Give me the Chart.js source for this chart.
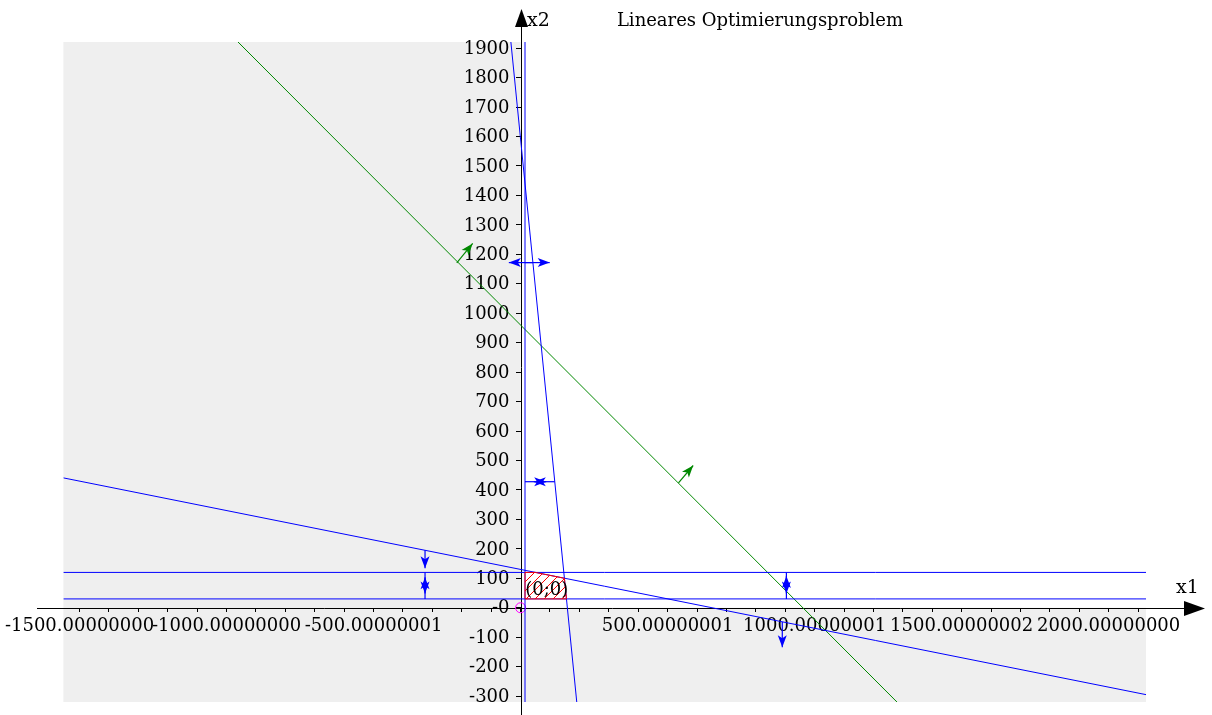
<!DOCTYPE html>
<html>
<head>
<meta charset="utf-8">
<title>Lineares Optimierungsproblem</title>
<script src="https://cdn.jsdelivr.net/npm/chart.js@4.4.1/dist/chart.umd.min.js"></script>
<style>
  html, body { margin: 0; padding: 0; background: #fff; }
  #wrap { position: relative; width: 1212px; height: 715px; }
</style>
</head>
<body>
<div id="wrap"><canvas id="lp"></canvas></div>
<script>
// visible window of the plot (data units)
const xRange = [-1555, 2127];
const yRange = [-320, 1921];
const tickStep = 100;

// tick labels as printed in the original
const xLabelValues = [-1500, -1000, -500, 500, 1000, 1500, 2000];
const xLabelTexts = ['-1500.00000000', '-1000.00000000', '-500.00000001', '500.00000001',
  '1000.00000001', '1500.00000002', '2000.00000000'];
const yLabelValues = [1900, 1800, 1700, 1600, 1500, 1400, 1300, 1200, 1100, 1000, 900, 800,
  700, 600, 500, 400, 300, 200, 100, 0, -100, -200, -300];
const yLabelTexts = ['1900', '1800', '1700', '1600', '1500', '1400', '1300', '1200', '1100', '1000',
  '900', '800', '700', '600', '500', '400', '300', '200', '100', '-0', '-100', '-200', '-300'];

// constraint lines [x1, x2]
const lineX1Min = [[15, -320], [15, 1921]];
const lineX2Max = [[-1555, 120], [2127, 120]];
const lineX2Min = [[-1555, 30], [2127, 30]];
const lineSteep = [[-33, 1921], [191, -320]];
const lineShallow = [[-1555, 441], [2127, -295]];
// objective function
const lineTarget = [[-961, 1921], [1280, -320]];
// feasible region
const feasible = [[15, 30], [15, 120], [50, 120], [149, 100], [156, 30], [15, 30]];
const origin = [[0, 0]];

// direction arrows [from, to]
const blueArrows = [
  [[15, 1172], [99, 1172]],
  [[42, 1172], [-40, 1172]],
  [[116, 428], [45, 428]],
  [[15, 428], [87, 428]],
  [[-325, 195], [-325, 134]],
  [[-325, 120], [-325, 48]],
  [[-325, 30], [-325, 104]],
  [[904, 120], [904, 48]],
  [[904, 30], [904, 108]],
  [[890, -48], [890, -134]]
];
const greenArrows = [
  [[-217, 1171], [-163, 1237]],
  [[537, 424], [587, 483]]
];
const pointLabel = { text: '(0;0)', x: 89, y: 58 };

const BLUE = '#0000ff';
const GREEN = '#008800';
const FONT = "'DejaVu Serif', serif";
const FONT_SIZE = 18;

function pts(arr) {
  return arr.map(p => ({ x: p[0], y: p[1] }));
}

function hatchPattern() {
  const c = document.createElement('canvas');
  c.width = 9; c.height = 9;
  const g = c.getContext('2d');
  g.strokeStyle = '#ff0000';
  g.lineWidth = 1;
  g.beginPath();
  g.moveTo(0, 9); g.lineTo(9, 0);
  g.stroke();
  return g.createPattern(c, 'repeat');
}

function lineSet(data, color) {
  return { data: pts(data), borderColor: color, borderWidth: 1, pointRadius: 0, fill: false, tension: 0 };
}

function drawArrow(ctx, x0, y0, x1, y1, color) {
  const ang = Math.atan2(y1 - y0, x1 - x0);
  const c = Math.cos(ang), s = Math.sin(ang);
  const len = 12, half = 4.5;
  ctx.strokeStyle = color;
  ctx.fillStyle = color;
  ctx.lineWidth = 1.2;
  ctx.beginPath();
  ctx.moveTo(x0, y0);
  ctx.lineTo(x1, y1);
  ctx.stroke();
  ctx.beginPath();
  ctx.moveTo(x1, y1);
  ctx.lineTo(x1 - len * c + half * s, y1 - len * s - half * c);
  ctx.lineTo(x1 - len * 0.75 * c, y1 - len * 0.75 * s);
  ctx.lineTo(x1 - len * c - half * s, y1 - len * s + half * c);
  ctx.closePath();
  ctx.fill();
}

// grey outside the first quadrant, white inside
const backdrop = {
  id: 'backdrop',
  beforeDraw(chart) {
    const { ctx, chartArea: a, scales: { x, y } } = chart;
    const x0 = x.getPixelForValue(0);
    const y0 = y.getPixelForValue(0);
    ctx.save();
    ctx.fillStyle = '#efefef';
    ctx.fillRect(a.left, a.top, a.right - a.left, a.bottom - a.top);
    ctx.fillStyle = '#ffffff';
    ctx.fillRect(x0, a.top, a.right - x0, y0 - a.top);
    ctx.restore();
  }
};

// axes through the origin, running past the plot area, with arrow heads; y labels left of the axis
const axisLines = {
  id: 'axisLines',
  beforeDatasetsDraw(chart) {
    const { ctx, height, scales: { x, y } } = chart;
    const x0 = Math.round(x.getPixelForValue(0)) + 0.5;
    const y0 = Math.round(y.getPixelForValue(0)) + 0.5;
    ctx.save();
    ctx.strokeStyle = '#000';
    ctx.fillStyle = '#000';
    ctx.lineWidth = 1;
    ctx.beginPath();
    ctx.moveTo(37, y0); ctx.lineTo(1188, y0);
    ctx.moveTo(x0, height); ctx.lineTo(x0, 20);
    ctx.stroke();
    ctx.beginPath();
    ctx.moveTo(1205, y0); ctx.lineTo(1184, y0 - 7.5); ctx.lineTo(1184, y0 + 7.5);
    ctx.closePath(); ctx.fill();
    ctx.beginPath();
    ctx.moveTo(x0, 9); ctx.lineTo(x0 - 6.5, 27); ctx.lineTo(x0 + 6.5, 27);
    ctx.closePath(); ctx.fill();

    ctx.font = FONT_SIZE + 'px ' + FONT;
    ctx.textAlign = 'right';
    ctx.textBaseline = 'middle';
    yLabelValues.forEach((v, i) => ctx.fillText(yLabelTexts[i], x0 - 12, y.getPixelForValue(v) + 1));
    ctx.restore();
  }
};

const arrowsAndText = {
  id: 'arrowsAndText',
  afterDatasetsDraw(chart) {
    const { ctx, scales: { x, y } } = chart;
    ctx.save();
    blueArrows.forEach(a => drawArrow(ctx, x.getPixelForValue(a[0][0]), y.getPixelForValue(a[0][1]),
      x.getPixelForValue(a[1][0]), y.getPixelForValue(a[1][1]), BLUE));
    greenArrows.forEach(a => drawArrow(ctx, x.getPixelForValue(a[0][0]), y.getPixelForValue(a[0][1]),
      x.getPixelForValue(a[1][0]), y.getPixelForValue(a[1][1]), GREEN));

    ctx.fillStyle = '#000';
    ctx.textBaseline = 'middle';
    ctx.textAlign = 'center';
    ctx.font = '18px ' + FONT;
    ctx.fillText(pointLabel.text, x.getPixelForValue(pointLabel.x), y.getPixelForValue(pointLabel.y));

    ctx.fillText('Lineares Optimierungsproblem', 760, 21);
    ctx.textAlign = 'left';
    ctx.font = '19px ' + FONT;
    ctx.fillText('x2', 527, 21);
    ctx.fillText('x1', 1176, 588);
    ctx.restore();
  }
};

Chart.defaults.font.family = FONT;
Chart.defaults.font.size = FONT_SIZE;
Chart.defaults.color = '#000';

new Chart(document.getElementById('lp'), {
  type: 'line',
  data: {
    datasets: [
      Object.assign(lineSet(feasible, '#ff0000'), { fill: 'shape', backgroundColor: hatchPattern() }),
      lineSet(lineX1Min, BLUE),
      lineSet(lineX2Max, BLUE),
      lineSet(lineX2Min, BLUE),
      lineSet(lineSteep, BLUE),
      lineSet(lineShallow, BLUE),
      lineSet(lineTarget, GREEN),
      { data: pts(origin), showLine: false, pointRadius: 5, pointBorderWidth: 1,
        pointBorderColor: '#ff00ff', pointBackgroundColor: 'rgba(0,0,0,0)' }
    ]
  },
  options: {
    responsive: true,
    maintainAspectRatio: false,
    animation: false,
    events: [],
    layout: { padding: { left: 62, top: 42, right: 66, bottom: 13 } },
    plugins: { legend: { display: false }, tooltip: { enabled: false }, title: { display: false } },
    scales: {
      x: {
        type: 'linear',
        min: xRange[0],
        max: xRange[1],
        position: { y: 0 },
        border: { display: false },
        grid: { drawOnChartArea: false, drawTicks: true, tickLength: 4, color: '#000' },
        ticks: {
          autoSkip: false, maxRotation: 0, minRotation: 0, padding: 4,
          callback: v => {
            const i = xLabelValues.indexOf(v);
            return i < 0 ? '' : xLabelTexts[i];
          }
        },
        afterBuildTicks: s => {
          const t = [];
          for (let v = Math.ceil(xRange[0] / tickStep) * tickStep; v <= xRange[1]; v += tickStep) t.push({ value: v });
          s.ticks = t;
        },
        afterFit: s => { s.height = 0; }
      },
      y: {
        type: 'linear',
        min: yRange[0],
        max: yRange[1],
        position: { x: 0 },
        border: { display: false },
        grid: { drawOnChartArea: false, drawTicks: true, tickLength: 5, color: '#000' },
        ticks: { display: false },
        afterBuildTicks: s => {
          s.ticks = yLabelValues.slice().reverse().map(v => ({ value: v }));
        },
        afterFit: s => { s.width = 0; }
      }
    }
  },
  plugins: [backdrop, axisLines, arrowsAndText]
});
</script>
</body>
</html>
